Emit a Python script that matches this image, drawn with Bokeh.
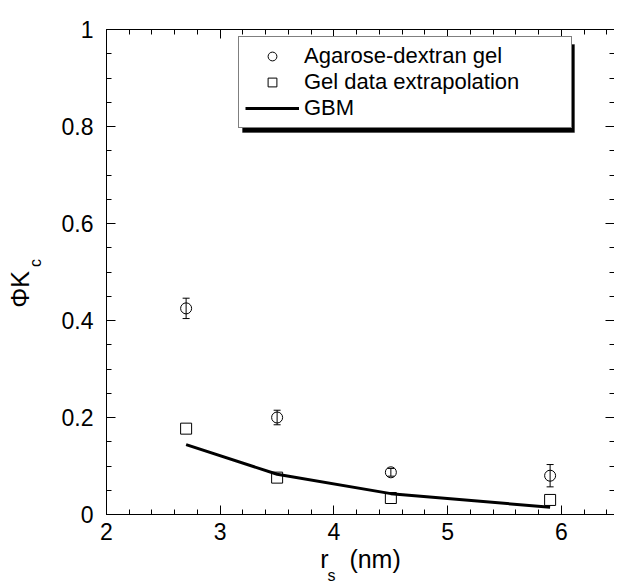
from bokeh.plotting import figure
from bokeh.models import (ColumnDataSource, Range1d, LinearAxis, FixedTicker, Whisker,
                          TeeHead, Legend, LegendItem, BoxAnnotation)
from bokeh.embed import file_html
from bokeh.resources import INLINE

# ---------------- data ----------------
gel_x = [2.7, 3.5, 4.5, 5.9]
gel_y = [0.425, 0.200, 0.087, 0.080]
gel_err = [0.021, 0.015, 0.008, 0.023]

extrap_x = [2.7, 3.5, 4.5, 5.9]
extrap_y = [0.177, 0.076, 0.034, 0.030]

gbm_x = [2.7, 3.5, 4.5, 5.9]
gbm_y = [0.144, 0.083, 0.043, 0.015]

x_ticks = [2, 3, 4, 5, 6]
y_ticks = [0, 0.2, 0.4, 0.6, 0.8, 1.0]
y_tick_labels = ["0", "0.2", "0.4", "0.6", "0.8", "1"]
series_names = ["Agarose-dextran gel", "Gel data extrapolation", "GBM"]
x_label_main, x_label_sub, x_label_unit = "r", "s", "(nm)"
y_label_main, y_label_sub = "\u03a6K", "c"

FONT = "Liberation Sans"
TICK_SIZE = "23px"
NB = "\u00a0"

x_minor = [round(2 + 0.2 * i, 2) for i in range(23)]
y_minor = [round(0.05 * i, 2) for i in range(21)]

p = figure(frame_width=508, frame_height=485,
           min_border_left=106, min_border_right=0, min_border_top=29, min_border_bottom=0,
           x_range=Range1d(2, 6.466), y_range=Range1d(0, 1),
           output_backend="svg", toolbar_location=None)
p.outline_line_color = None
p.grid.visible = False
p.background_fill_color = "white"
p.border_fill_color = "white"

xt = FixedTicker(ticks=x_ticks, minor_ticks=x_minor)
yt = FixedTicker(ticks=y_ticks, minor_ticks=y_minor)
no_ticks = FixedTicker(ticks=[], minor_ticks=[])


def style_axis(ax, standoff=8):
    ax.axis_line_color = "black"
    ax.axis_line_width = 1
    ax.major_tick_in = 9
    ax.major_tick_out = 0
    ax.minor_tick_in = 5
    ax.minor_tick_out = 0
    ax.major_tick_line_color = "black"
    ax.minor_tick_line_color = "black"
    ax.major_label_text_font = FONT
    ax.major_label_text_color = "black"
    ax.major_label_text_font_size = TICK_SIZE
    ax.major_label_standoff = standoff
    ax.axis_label_text_font = FONT
    ax.axis_label_text_font_style = "normal"
    ax.axis_label_text_color = "black"


def mirror_axis(ax, ticks):
    style_axis(ax, 0)
    ax.major_label_overrides = {t: "" for t in ticks}


def blank_axis(ax):
    ax.ticker = no_ticks
    ax.axis_line_color = None
    ax.major_tick_line_color = None
    ax.minor_tick_line_color = None
    ax.major_tick_in = 0
    ax.major_tick_out = 0
    ax.minor_tick_in = 0
    ax.minor_tick_out = 0
    ax.major_label_standoff = 0
    ax.axis_label_text_font = FONT
    ax.axis_label_text_font_style = "normal"
    ax.axis_label_text_color = "black"


# bottom axis: ticks + main x label
xa = p.xaxis[0]
xa.ticker = xt
style_axis(xa, 8)
xa.axis_label = x_label_main + NB * 3 + x_label_unit
xa.axis_label_text_font_size = "25px"
xa.axis_label_standoff = 2

# subscript of the x label, on an extra axis below
xs = LinearAxis()
blank_axis(xs)
xs.axis_label = x_label_sub + NB * 13
xs.axis_label_text_font_size = "16px"
xs.axis_label_standoff = -9
p.add_layout(xs, "below")

# left axis: ticks + subscript of the y label
ya = p.yaxis[0]
ya.ticker = yt
ya.major_label_overrides = dict(zip(y_ticks, y_tick_labels))
style_axis(ya, 13)
ya.axis_label = NB * 4 + y_label_sub
ya.axis_label_text_font_size = "16px"
ya.axis_label_standoff = 15

# main y label on an extra axis further left
ym = LinearAxis()
blank_axis(ym)
ym.axis_label = y_label_main + NB * 5
ym.axis_label_text_font_size = "25px"
ym.axis_label_standoff = -10
p.add_layout(ym, "left")

top_ax = LinearAxis(ticker=xt)
mirror_axis(top_ax, x_ticks)
p.add_layout(top_ax, "above")
right_ax = LinearAxis(ticker=yt)
mirror_axis(right_ax, y_ticks)
right_ax.axis_line_color = None
p.add_layout(right_ax, "right")

# ---------------- glyphs ----------------
src_gel = ColumnDataSource(dict(
    x=gel_x, y=gel_y,
    lower=[v - e for v, e in zip(gel_y, gel_err)],
    upper=[v + e for v, e in zip(gel_y, gel_err)],
))
whisk = Whisker(source=src_gel, base="x", upper="upper", lower="lower",
                line_color="black", line_width=1,
                upper_head=TeeHead(size=7, line_color="black", line_width=1),
                lower_head=TeeHead(size=7, line_color="black", line_width=1))
p.add_layout(whisk)

r_gbm = p.line(gbm_x, gbm_y, line_color="black", line_width=3)
r_gel = p.scatter("x", "y", source=src_gel, marker="circle", size=11,
                  fill_color=None, line_color="black", line_width=1)
r_ext = p.scatter(extrap_x, extrap_y, marker="square", size=11,
                  fill_color=None, line_color="black", line_width=1)

# ---------------- legend ----------------
leg_left, leg_bottom, leg_w, leg_h = 132, 386, 332, 88
shadow = BoxAnnotation(left=leg_left + 4, right=leg_left + leg_w + 4,
                       bottom=leg_bottom - 4, top=leg_bottom + leg_h - 4,
                       left_units="screen", right_units="screen",
                       bottom_units="screen", top_units="screen",
                       fill_color="black", fill_alpha=1, line_color="black")
p.add_layout(shadow)

legend = Legend(items=[LegendItem(label=series_names[0], renderers=[r_gel]),
                       LegendItem(label=series_names[1], renderers=[r_ext]),
                       LegendItem(label=series_names[2], renderers=[r_gbm])],
                location=(leg_left, leg_bottom),
                label_text_font=FONT, label_text_font_size="22px",
                label_text_color="black",
                label_width=261, label_height=22, glyph_width=54, glyph_height=22,
                label_standoff=5, padding=6, spacing=0, margin=0,
                border_line_color="black", border_line_width=1.5,
                background_fill_color="white", background_fill_alpha=1)
p.add_layout(legend)

open("out.html", "w").write(file_html(p, INLINE))
